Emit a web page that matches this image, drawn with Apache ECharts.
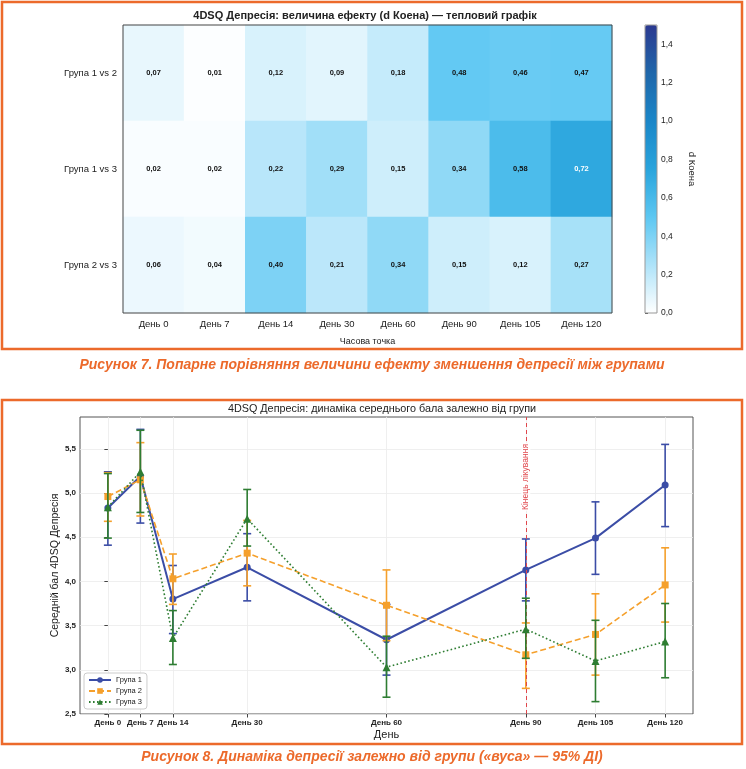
<!DOCTYPE html>
<html>
<head>
<meta charset="utf-8">
<script src="https://cdn.jsdelivr.net/npm/echarts@6/dist/echarts.min.js"></script>
<style>html,body{margin:0;padding:0;background:#fff}#c{width:746px;height:769px}</style>
</head>
<body>
<div id="c"></div>
<script>
// ---------- Heatmap data ----------
var heatDays = ['День 0','День 7','День 14','День 30','День 60','День 90','День 105','День 120'];
var heatPairs = ['Група 1 vs 2','Група 1 vs 3','Група 2 vs 3'];
var d12 = [0.07, 0.01, 0.12, 0.09, 0.18, 0.48, 0.46, 0.47];
var d13 = [0.02, 0.02, 0.22, 0.29, 0.15, 0.34, 0.58, 0.72];
var d23 = [0.06, 0.04, 0.40, 0.21, 0.34, 0.15, 0.12, 0.27];
var colorbarTicks = [0, 0.2, 0.4, 0.6, 0.8, 1.0, 1.2, 1.4];

// ---------- Line chart data ----------
var days = [0, 7, 14, 30, 60, 90, 105, 120];
var g1Mean = [4.83, 5.19, 3.80, 4.16, 3.34, 4.13, 4.49, 5.09];
var g1Lo   = [4.41, 4.66, 3.41, 3.78, 2.94, 3.78, 4.08, 4.62];
var g1Hi   = [5.24, 5.72, 4.18, 4.54, 3.74, 4.48, 4.90, 5.55];
var g2Mean = [4.96, 5.15, 4.03, 4.32, 3.73, 3.17, 3.40, 3.96];
var g2Lo   = [4.68, 4.74, 3.74, 3.95, 3.33, 2.79, 2.94, 3.54];
var g2Hi   = [5.23, 5.57, 4.31, 4.69, 4.13, 3.53, 3.86, 4.38];
var g3Mean = [4.84, 5.24, 3.36, 4.71, 3.03, 3.46, 3.10, 3.32];
var g3Lo   = [4.49, 4.78, 3.06, 4.40, 2.69, 3.13, 2.64, 2.91];
var g3Hi   = [5.22, 5.71, 3.67, 5.04, 3.38, 3.81, 3.56, 3.75];
var yTicks = [2.5, 3.0, 3.5, 4.0, 4.5, 5.0, 5.5];

var FONT = 'Liberation Sans';
var ORANGE = '#ec6a2b';
var C1 = '#3b4da6', C2 = '#f5a02c', C3 = '#2e7d32';

var heatRows = [d12, d13, d23];
var heatData = [];
heatRows.forEach(function (row, i) {
  row.forEach(function (v, j) {
    heatData.push({ value: [j, i, v], label: { color: v > 0.65 ? '#ffffff' : '#111111' } });
  });
});

function pts(m) { return days.map(function (d, i) { return [d, m[i]]; }); }
function ci(lo, hi) { return days.map(function (d, i) { return [d, lo[i], hi[i]]; }); }
function comma(v, n) { return v.toFixed(n).replace('.', ','); }

function errRender(params, api) {
  var x = api.value(0), lo = api.value(1), hi = api.value(2);
  var a = api.coord([x, lo]), b = api.coord([x, hi]);
  var cap = 4;
  var st = { stroke: api.visual('color'), lineWidth: 1.6 };
  return { type: 'group', children: [
    { type: 'line', shape: { x1: a[0], y1: a[1], x2: b[0], y2: b[1] }, style: st },
    { type: 'line', shape: { x1: a[0] - cap, y1: a[1], x2: a[0] + cap, y2: a[1] }, style: st },
    { type: 'line', shape: { x1: b[0] - cap, y1: b[1], x2: b[0] + cap, y2: b[1] }, style: st }
  ]};
}

var chart = echarts.init(document.getElementById('c'), null, { renderer: 'canvas' });
var option = {
  backgroundColor: '#ffffff',
  animation: false,
  textStyle: { fontFamily: FONT },
  graphic: [
    { type: 'rect', shape: { x: 2, y: 2, width: 740, height: 347 }, style: { fill: 'none', stroke: ORANGE, lineWidth: 2.5 }, z: 100 },
    { type: 'rect', shape: { x: 2, y: 400, width: 740, height: 344 }, style: { fill: 'none', stroke: ORANGE, lineWidth: 2.5 }, z: 100 },
    { type: 'rect', shape: { x: 123, y: 25, width: 489, height: 288 }, style: { fill: 'none', stroke: '#444', lineWidth: 1 }, z: 50 },
    { type: 'rect', shape: { x: 645, y: 25, width: 12, height: 288 }, style: { fill: 'none', stroke: '#999', lineWidth: 1 }, z: 50 },
    { type: 'text', x: 365, y: 16, z: 60, style: { text: '4DSQ Депресія: величина ефекту (d Коена) — тепловий графік', fontFamily: FONT, fontSize: 11, fontWeight: 'bold', fill: '#222', align: 'center', verticalAlign: 'middle' } },
    { type: 'text', x: 382, y: 409, z: 60, style: { text: '4DSQ Депресія: динаміка середнього бала залежно від групи', fontFamily: FONT, fontSize: 10.8, fill: '#222', align: 'center', verticalAlign: 'middle' } },
    { type: 'text', x: 372, y: 365, z: 60, style: { text: 'Рисунок 7. Попарне порівняння величини ефекту зменшення депресії між групами', fontFamily: FONT, fontSize: 14, fontWeight: 'bold', fontStyle: 'italic', fill: ORANGE, align: 'center', verticalAlign: 'middle' } },
    { type: 'text', x: 372, y: 757, z: 60, style: { text: 'Рисунок 8. Динаміка депресії залежно від групи («вуса» — 95% ДІ)', fontFamily: FONT, fontSize: 14, fontWeight: 'bold', fontStyle: 'italic', fill: ORANGE, align: 'center', verticalAlign: 'middle' } }
  ],
  grid: [
    { left: 123, top: 25, width: 489, height: 288 },
    { left: 645, top: 25, width: 12, height: 288 },
    { left: 80, top: 417, width: 613, height: 297, show: true, borderColor: '#555', borderWidth: 1, backgroundColor: 'transparent' }
  ],
  xAxis: [
    { gridIndex: 0, type: 'category', data: heatDays, name: 'Часова точка', nameLocation: 'middle', nameGap: 24,
      nameTextStyle: { fontSize: 9, color: '#222' },
      axisLine: { show: false }, axisTick: { alignWithLabel: true, length: 3.5, lineStyle: { color: '#444' } },
      axisLabel: { fontSize: 9.5, color: '#222', margin: 6 }, splitLine: { show: false } },
    { gridIndex: 1, type: 'value', min: 0, max: 1, show: false },
    { gridIndex: 2, type: 'value', min: -6, max: 126, name: 'День', nameLocation: 'middle', nameGap: 15,
      nameTextStyle: { fontSize: 11, color: '#222' },
      axisLine: { show: false },
      axisTick: { show: true, length: 3.5, customValues: days, lineStyle: { color: '#444' } },
      axisLabel: { customValues: days, fontSize: 8, fontWeight: 'bold', color: '#222', margin: 5,
        formatter: function (v) { return 'День ' + v; } },
      splitLine: { show: true, lineStyle: { color: '#ebebeb', width: 0.8 } } }
  ],
  yAxis: [
    { gridIndex: 0, type: 'category', data: heatPairs, inverse: true,
      axisLine: { show: false }, axisTick: { alignWithLabel: true, length: 3.5, lineStyle: { color: '#444' } },
      axisLabel: { fontSize: 9.5, color: '#222', margin: 6 }, splitLine: { show: false } },
    { gridIndex: 1, type: 'value', min: 0, max: 1.5, position: 'right', name: 'd Коена', nameLocation: 'middle', nameGap: 30, nameRotate: -90,
      nameTextStyle: { fontSize: 9.5, color: '#222' },
      axisLine: { show: false },
      axisTick: { show: true, length: 3, customValues: colorbarTicks, lineStyle: { color: '#444' } },
      axisLabel: { customValues: colorbarTicks, fontSize: 8.5, color: '#222', margin: 4, formatter: function (v) { return comma(v, 1); } },
      splitLine: { show: false } },
    { gridIndex: 2, type: 'value', min: 2.5, max: 5.86, name: 'Середній бал 4DSQ Депресія', nameLocation: 'middle', nameGap: 19,
      nameMoveOverlap: false,
      nameTextStyle: { fontSize: 10.5, color: '#222' },
      axisLine: { show: false },
      axisTick: { show: true, length: 3.5, customValues: yTicks, lineStyle: { color: '#444' } },
      axisLabel: { customValues: yTicks, fontSize: 8, fontWeight: 'bold', color: '#222', margin: 4, formatter: function (v) { return comma(v, 1); } },
      splitLine: { show: true, lineStyle: { color: '#ebebeb', width: 0.8 } } }
  ],
  visualMap: {
    type: 'continuous', seriesIndex: 0, dimension: 2, min: 0, max: 1.5,
    left: 645, top: 25, itemWidth: 12, itemHeight: 288, padding: 0,
    calculable: false, showLabel: false, text: null, hoverLink: false,
    inRange: { color: ['#ffffff', '#aee3f9', '#5cc7f2', '#29a4dc', '#1a86c8', '#1f67aa', '#2b3990'] }
  },
  legend: {
    left: 84, top: 673, orient: 'vertical', itemGap: 3, itemWidth: 22, itemHeight: 7,
    padding: [3, 5, 3, 4], borderColor: '#cccccc', borderWidth: 1, borderRadius: 3,
    backgroundColor: 'rgba(255,255,255,0.85)',
    textStyle: { fontSize: 7.5, color: '#222' },
    data: ['Група 1', 'Група 2', 'Група 3']
  },
  series: [
    { type: 'heatmap', xAxisIndex: 0, yAxisIndex: 0, data: heatData,
      label: { show: true, fontSize: 7.5, fontWeight: 'bold', formatter: function (p) { return comma(p.value[2], 2); } },
      itemStyle: { borderWidth: 0 } },
    { type: 'custom', name: 'ДІ 1', xAxisIndex: 2, yAxisIndex: 2, data: ci(g1Lo, g1Hi), renderItem: errRender,
      itemStyle: { color: C1 }, encode: { x: 0, y: [1, 2] }, z: 2 },
    { type: 'line', name: 'Група 1', xAxisIndex: 2, yAxisIndex: 2, data: pts(g1Mean), symbol: 'circle', symbolSize: 7,
      itemStyle: { color: C1 }, lineStyle: { color: C1, width: 2 }, z: 3 },
    { type: 'custom', name: 'ДІ 2', xAxisIndex: 2, yAxisIndex: 2, data: ci(g2Lo, g2Hi), renderItem: errRender,
      itemStyle: { color: C2 }, encode: { x: 0, y: [1, 2] }, z: 4 },
    { type: 'line', name: 'Група 2', xAxisIndex: 2, yAxisIndex: 2, data: pts(g2Mean), symbol: 'rect', symbolSize: 7,
      itemStyle: { color: C2 }, lineStyle: { color: C2, width: 1.6, type: [6, 3] }, z: 5 },
    { type: 'custom', name: 'ДІ 3', xAxisIndex: 2, yAxisIndex: 2, data: ci(g3Lo, g3Hi), renderItem: errRender,
      itemStyle: { color: C3 }, encode: { x: 0, y: [1, 2] }, z: 6 },
    { type: 'line', name: 'Група 3', xAxisIndex: 2, yAxisIndex: 2, data: pts(g3Mean), symbol: 'triangle', symbolSize: 8,
      itemStyle: { color: C3 }, lineStyle: { color: C3, width: 1.6, type: [1.6, 2.4] }, z: 7,
      markLine: { silent: true, symbol: 'none', animation: false,
        lineStyle: { color: '#e0474c', type: [4, 3], width: 1 },
        label: { show: true, position: 'insideEnd', formatter: 'Кінець лікування', color: '#e0474c', fontSize: 8.5,
          backgroundColor: '#ffffff', padding: [0, 1], distance: [26, 0] },
        data: [{ xAxis: 90 }] } }
  ]
};
chart.setOption(option);
</script>
</body>
</html>
